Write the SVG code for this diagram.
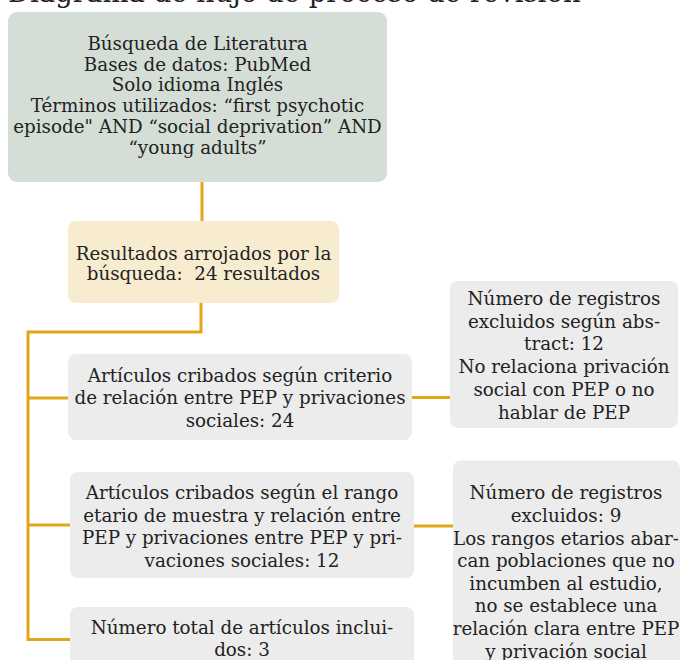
<svg xmlns="http://www.w3.org/2000/svg" width="681" height="660" viewBox="0 0 681 660">
<style>
text{font-family:"DejaVu Serif","Liberation Serif",serif;font-size:18.3px;fill:#222;text-anchor:middle}
.title{font-size:27.5px;text-anchor:start}
.green{fill:#d4ded6}
.cream{fill:#f8ecd0}
.gray{fill:#ececec}
.conn{fill:none;stroke:#e2a616;stroke-width:3}
</style>
<rect width="681" height="660" fill="#fff"/>
<text class="title" x="8" y="1.5">Diagrama de flujo de proceso de revisión</text>
<g id="connectors">
<path class="conn" d="M202,182V221"/>
<path class="conn" d="M201,303V332H28V639.5H70"/>
<path class="conn" d="M28,398H68"/>
<path class="conn" d="M28,525H70"/>
<path class="conn" d="M412,397.5H450"/>
<path class="conn" d="M414,526H453"/>
</g>
<g id="n1">
<rect class="green" x="8" y="12" width="379" height="170" rx="9"/>
<text x="197.5" y="50">Búsqueda de Literatura</text>
<text x="197.5" y="70.7">Bases de datos: PubMed</text>
<text x="197.5" y="91.4">Solo idioma Inglés</text>
<text x="197.5" y="112.1">Términos utilizados: “first psychotic</text>
<text x="197.5" y="132.8">episode" AND “social deprivation” AND</text>
<text x="197.5" y="153.5">“young adults”</text>
</g>
<g id="n2">
<rect class="cream" x="68" y="221" width="271" height="82" rx="8"/>
<text x="203.5" y="259.5">Resultados arrojados por la</text>
<text x="203.5" y="280.2" xml:space="preserve">búsqueda:  24 resultados</text>
</g>
<g id="n3">
<rect class="gray" x="68" y="354" width="344" height="86" rx="8"/>
<text x="240" y="381.5">Artículos cribados según criterio</text>
<text x="240" y="404">de relación entre PEP y privaciones</text>
<text x="240" y="426.5">sociales: 24</text>
</g>
<g id="n4">
<rect class="gray" x="70" y="472" width="344" height="106" rx="8"/>
<text x="242" y="499">Artículos cribados según el rango</text>
<text x="242" y="521.5">etario de muestra y relación entre</text>
<text x="242" y="544">PEP y privaciones entre PEP y pri-</text>
<text x="242" y="566.5">vaciones sociales: 12</text>
</g>
<g id="n5">
<rect class="gray" x="450" y="281" width="228" height="147" rx="8"/>
<text x="564" y="305">Número de registros</text>
<text x="564" y="327.7">excluidos según abs-</text>
<text x="564" y="350.4">tract: 12</text>
<text x="564" y="373.1">No relaciona privación</text>
<text x="564" y="395.8">social con PEP o no</text>
<text x="564" y="418.5">hablar de PEP</text>
</g>
<g id="n6">
<rect class="gray" x="70" y="607" width="344" height="70" rx="8"/>
<text x="242" y="633.5">Número total de artículos inclui-</text>
<text x="242" y="656">dos: 3</text>
</g>
<g id="n7">
<rect class="gray" x="453" y="460.5" width="227" height="215" rx="8"/>
<text x="566" y="499.3">Número de registros</text>
<text x="566" y="521.9">excluidos: 9</text>
<text x="566" y="544.5">Los rangos etarios abar-</text>
<text x="566" y="567.1">can poblaciones que no</text>
<text x="566" y="589.7">incumben al estudio,</text>
<text x="566" y="612.3">no se establece una</text>
<text x="566" y="634.9">relación clara entre PEP</text>
<text x="566" y="657.5">y privación social</text>
</g>
</svg>
